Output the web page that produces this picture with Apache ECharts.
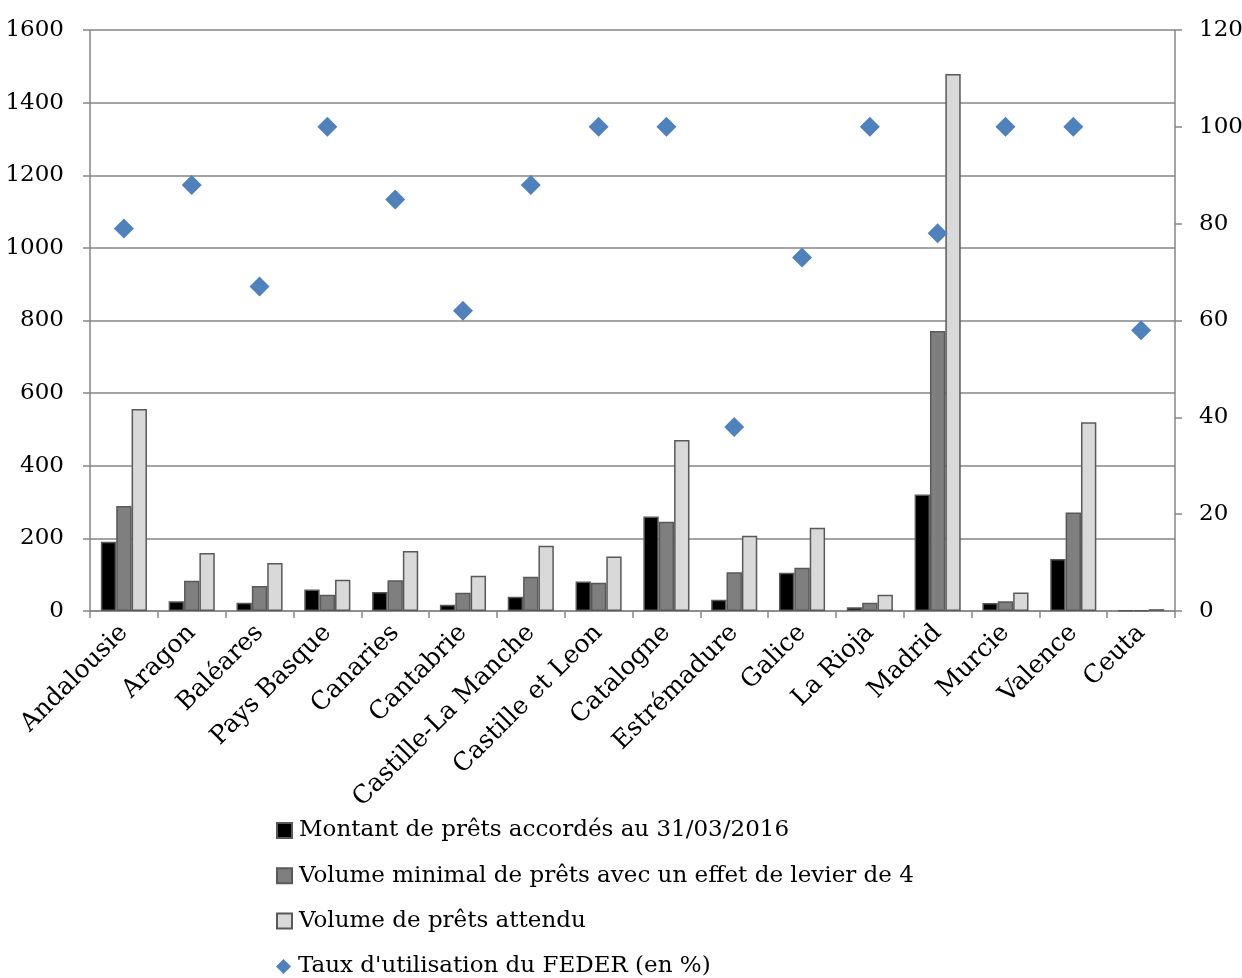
<!DOCTYPE html>
<html>
<head>
<meta charset="utf-8">
<script src="https://cdn.jsdelivr.net/npm/echarts@6/dist/echarts.min.js"></script>
<style>
  html, body { margin: 0; padding: 0; background: #ffffff; overflow: hidden; }
  #chart { width: 1242px; height: 978px; }
</style>
</head>
<body>
<div id="chart"></div>
<script>
// Régions espagnoles
const regions = ['Andalousie', 'Aragon', 'Baléares', 'Pays Basque', 'Canaries', 'Cantabrie',
  'Castille-La Manche', 'Castille et Leon', 'Catalogne', 'Estrémadure', 'Galice', 'La Rioja',
  'Madrid', 'Murcie', 'Valence', 'Ceuta'];

// Montant de prêts accordés au 31/03/2016
const montantPrets = [191, 27, 23, 59, 52, 17, 39, 81, 260, 31, 105, 10, 321, 22, 143, 1];
// Volume minimal de prêts avec un effet de levier de 4
const volumeMinimal = [289, 83, 69, 45, 85, 50, 94, 78, 246, 107, 119, 23, 771, 27, 271, 2];
// Volume de prêts attendu
const volumeAttendu = [556, 160, 132, 86, 165, 97, 180, 150, 471, 207, 229, 45, 1479, 51, 520, 5];
// Taux d'utilisation du FEDER (en %)
const tauxFeder = [79, 88, 67, 100, 85, 62, 88, 100, 100, 38, 73, 100, 78, 100, 100, 58];

// Noms des séries
const seriesNames = [
  'Montant de prêts accordés au 31/03/2016',
  'Volume minimal de prêts avec un effet de levier de 4',
  'Volume de prêts attendu',
  "Taux d'utilisation du FEDER (en %)"
];

// Graduations des axes
const leftTicks = { min: 0, max: 1600, interval: 200 };
const rightTicks = { min: 0, max: 120, interval: 20 };

const FONT = 'DejaVu Serif';
const FONT_SIZE = 23;
const AXIS_GREY = '#868686';
const BORDER = '#595959';

const chart = echarts.init(document.getElementById('chart'), null, { renderer: 'canvas' });

const barStyle = (color) => ({ color: color, borderColor: BORDER, borderWidth: 1.5 });

// One legend block per series, stacked below the chart
const legendIcons = ['rect', 'rect', 'rect', 'diamond'];
const legends = seriesNames.map((name, i) => ({
  orient: 'vertical',
  left: 276,
  top: 819 + i * 45.3,
  padding: 0,
  itemWidth: 15,
  itemHeight: 15,
  textStyle: { fontFamily: FONT, fontSize: FONT_SIZE, color: '#000', padding: [0, 0, 0, 2] },
  data: [{ name: name, icon: legendIcons[i] }]
}));

chart.setOption({
  animation: false,
  backgroundColor: '#ffffff',
  textStyle: { fontFamily: FONT, color: '#000' },
  grid: { left: 90, right: 67, top: 30, bottom: 367, containLabel: false, outerBoundsMode: 'none' },
  legend: legends,
  xAxis: {
    type: 'category',
    data: regions,
    boundaryGap: true,
    axisLine: { lineStyle: { color: AXIS_GREY, width: 1.5 } },
    axisTick: { show: true, alignWithLabel: false, length: 7, lineStyle: { color: AXIS_GREY, width: 1.5 } },
    axisLabel: { interval: 0, rotate: 45, margin: 18, fontFamily: FONT, fontSize: 25, color: '#000' }
  },
  yAxis: [
    {
      type: 'value',
      min: leftTicks.min, max: leftTicks.max, interval: leftTicks.interval,
      axisLine: { show: true, lineStyle: { color: AXIS_GREY, width: 1.5 } },
      axisTick: { show: true, length: 7, lineStyle: { color: AXIS_GREY, width: 1.5 } },
      axisLabel: { margin: 26, fontFamily: FONT, fontSize: FONT_SIZE, color: '#000', formatter: (v) => String(v) },
      splitLine: { show: true, lineStyle: { color: AXIS_GREY, width: 1.5 } }
    },
    {
      type: 'value',
      position: 'right',
      min: rightTicks.min, max: rightTicks.max, interval: rightTicks.interval,
      axisLine: { show: true, lineStyle: { color: AXIS_GREY, width: 1.5 } },
      axisTick: { show: true, length: 7, lineStyle: { color: AXIS_GREY, width: 1.5 } },
      axisLabel: { margin: 24, fontFamily: FONT, fontSize: FONT_SIZE, color: '#000', formatter: (v) => String(v) },
      splitLine: { show: false }
    }
  ],
  series: [
    {
      name: seriesNames[0],
      type: 'bar', yAxisIndex: 0,
      data: montantPrets,
      barGap: '0%', barCategoryGap: '32%',
      itemStyle: barStyle('#000000')
    },
    {
      name: seriesNames[1],
      type: 'bar', yAxisIndex: 0,
      data: volumeMinimal,
      barGap: '0%', barCategoryGap: '32%',
      itemStyle: barStyle('#7f7f7f')
    },
    {
      name: seriesNames[2],
      type: 'bar', yAxisIndex: 0,
      data: volumeAttendu,
      barGap: '0%', barCategoryGap: '32%',
      itemStyle: barStyle('#d9d9d9')
    },
    {
      name: seriesNames[3],
      type: 'scatter', yAxisIndex: 1,
      data: tauxFeder,
      symbol: 'diamond',
      symbolSize: 20,
      z: 5,
      itemStyle: { color: '#4f81bd', opacity: 1 }
    }
  ]
});
</script>
</body>
</html>
